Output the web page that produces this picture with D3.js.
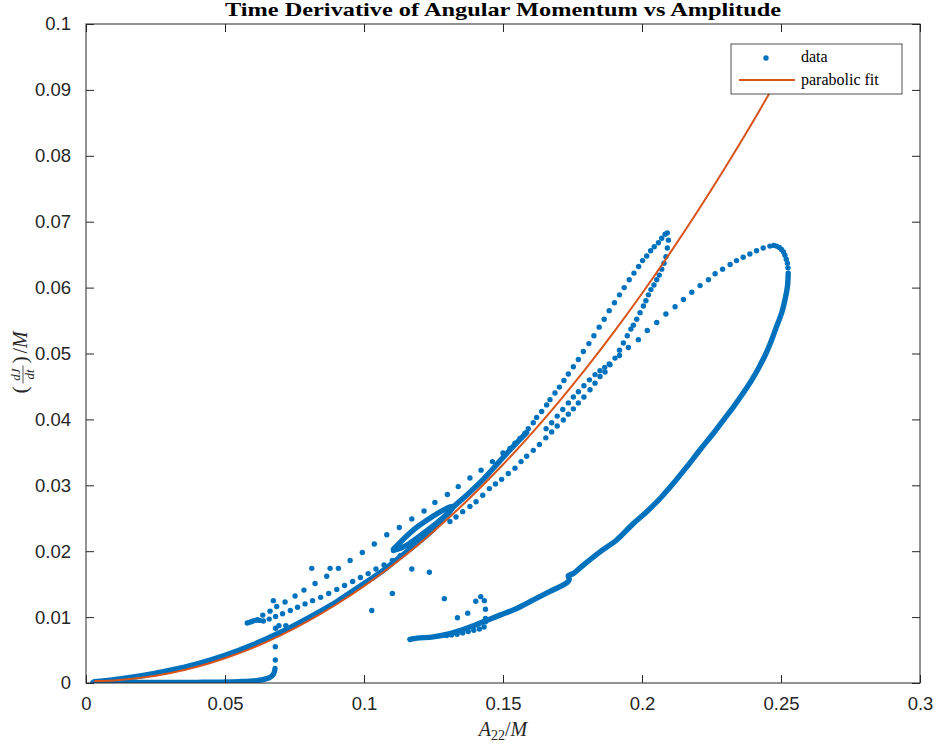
<!DOCTYPE html>
<html>
<head>
<meta charset="utf-8">
<script src="https://cdn.jsdelivr.net/npm/d3@7/dist/d3.min.js"></script>
<style>
  html, body { margin: 0; padding: 0; background: #fff; }
  svg { display: block; }
</style>
</head>
<body>
<svg id="chart" width="936" height="744"></svg>
<script>
// ---- axis ticks ----
const xTicks = [0, 0.05, 0.1, 0.15, 0.2, 0.25, 0.3];
const xTickLabels = ["0", "0.05", "0.1", "0.15", "0.2", "0.25", "0.3"];
const yTicks = [0, 0.01, 0.02, 0.03, 0.04, 0.05, 0.06, 0.07, 0.08, 0.09, 0.1];
const yTickLabels = ["0", "0.01", "0.02", "0.03", "0.04", "0.05", "0.06", "0.07", "0.08", "0.09", "0.1"];

// ---- data: densely sampled stretches (drawn as continuous bands of dots) ----
const denseLowerFlat = [
  [0.0025, 0.0001], [0.02, 0.0001], [0.04, 0.0001], [0.055, 0.0002], [0.062, 0.0004],
  [0.066, 0.0008], [0.0675, 0.0014], [0.068, 0.0022]
];
const denseMainBand = [
  [0.003, 0.0002], [0.01, 0.0005], [0.02, 0.0011], [0.03, 0.0019], [0.04, 0.0029],
  [0.05, 0.0042], [0.06, 0.0058], [0.07, 0.0077], [0.08, 0.0099], [0.09, 0.0123],
  [0.1, 0.0151], [0.106, 0.0168], [0.112, 0.0188], [0.118, 0.0208], [0.125, 0.0233],
  [0.1309, 0.0262], [0.1369, 0.0285], [0.1429, 0.0309], [0.1489, 0.0337],
  [0.1537, 0.0359], [0.1585, 0.038]
];
const denseEyeLoop = [
  [0.1106, 0.0203], [0.1177, 0.0232], [0.1237, 0.025], [0.1297, 0.0265], [0.1318, 0.0268],
  [0.1309, 0.026], [0.1273, 0.0247], [0.1213, 0.0227], [0.1153, 0.0209], [0.1106, 0.0201]
];
const denseOuterLoop = [
  [0.2526, 0.0622], [0.2523, 0.0601], [0.2514, 0.0581], [0.2502, 0.0561], [0.2484, 0.0541],
  [0.2466, 0.052], [0.2446, 0.05], [0.2422, 0.048], [0.2395, 0.046], [0.2364, 0.044],
  [0.2329, 0.0419], [0.2293, 0.0399], [0.2257, 0.0379], [0.2209, 0.0354], [0.2161, 0.0328],
  [0.2113, 0.0303], [0.2065, 0.028], [0.2017, 0.026], [0.1969, 0.0242], [0.1909, 0.0217],
  [0.1849, 0.0199], [0.1789, 0.0179], [0.1752, 0.0166], [0.1735, 0.0163], [0.1738, 0.0157],
  [0.1729, 0.0152], [0.1669, 0.0139], [0.1609, 0.0126], [0.1549, 0.0113], [0.1489, 0.0103],
  [0.1429, 0.0093], [0.1369, 0.0083], [0.1309, 0.0075], [0.1249, 0.007], [0.119, 0.0068],
  [0.1165, 0.0066]
];

// ---- data: sparsely sampled stretches (individual dots) ----
const dotsJump = [
  [0.0681, 0.0035], [0.0681, 0.0055], [0.0682, 0.0083], [0.0694, 0.0087], [0.0719, 0.0087]
];
const dotsCluster = [
  [0.058, 0.0091], [0.0587, 0.0092], [0.0594, 0.0093], [0.0601, 0.0094], [0.0609, 0.0095],
  [0.0617, 0.0096], [0.0625, 0.0095]
];
const dotsUpperArc = [
  [0.0636, 0.0103], [0.0662, 0.0109], [0.0674, 0.0125], [0.0686, 0.0116], [0.0716, 0.0123],
  [0.0752, 0.0132], [0.0784, 0.0141], [0.0824, 0.0151], [0.0866, 0.0162], [0.0908, 0.0174],
  [0.095, 0.0186], [0.0994, 0.0198], [0.1037, 0.0211], [0.1082, 0.0225], [0.1127, 0.0236],
  [0.1172, 0.0249], [0.1216, 0.0261], [0.1255, 0.0274], [0.13, 0.0286], [0.1339, 0.0298],
  [0.1381, 0.0311], [0.1421, 0.0323], [0.1462, 0.0336], [0.150, 0.0349], [0.1525, 0.0356],
  [0.1543, 0.0364], [0.1561, 0.0371], [0.1579, 0.0379], [0.1591, 0.0386], [0.1609, 0.0395],
  [0.1621, 0.0403], [0.1639, 0.0412], [0.1657, 0.0422], [0.1669, 0.043], [0.1687, 0.044],
  [0.1703, 0.0449], [0.1719, 0.0459], [0.1735, 0.0469], [0.1753, 0.048], [0.1771, 0.0491],
  [0.1789, 0.0503], [0.1809, 0.0515], [0.1827, 0.0527], [0.1846, 0.054], [0.1864, 0.0552],
  [0.1882, 0.0565], [0.1901, 0.0577], [0.1919, 0.0589], [0.1936, 0.06], [0.1954, 0.0612],
  [0.1971, 0.0622], [0.1988, 0.0632], [0.2002, 0.0641], [0.2017, 0.0648], [0.2031, 0.0656],
  [0.2044, 0.0662], [0.2059, 0.0668], [0.2071, 0.0675], [0.2083, 0.0681], [0.2091, 0.0683]
];
const dotsMiddleArc = [
  [0.0638, 0.0094], [0.0659, 0.0097], [0.0682, 0.0101], [0.0707, 0.0105], [0.0735, 0.011],
  [0.0761, 0.0115], [0.0788, 0.012], [0.0815, 0.0125], [0.0844, 0.013], [0.0873, 0.0136],
  [0.0902, 0.0142], [0.093, 0.0148], [0.0959, 0.0154], [0.0987, 0.016], [0.1015, 0.0166],
  [0.1043, 0.0173], [0.1072, 0.0179], [0.1102, 0.0186], [0.113, 0.0193]
];
const dotsReturnArc = [
  [0.2095, 0.0672], [0.2091, 0.066], [0.2086, 0.0647], [0.2079, 0.0637], [0.2071, 0.0628],
  [0.2062, 0.0619], [0.2053, 0.0612], [0.2043, 0.0604], [0.2032, 0.0597], [0.2023, 0.0589],
  [0.2014, 0.058], [0.2005, 0.0572], [0.1993, 0.0562], [0.1981, 0.0552], [0.1969, 0.0543],
  [0.196, 0.0537], [0.1947, 0.0527], [0.1933, 0.0516], [0.1919, 0.0505], [0.1903, 0.0493],
  [0.1885, 0.0483], [0.1867, 0.0472], [0.1849, 0.0465], [0.1831, 0.0455], [0.1813, 0.0445],
  [0.1791, 0.0434], [0.1771, 0.0425], [0.1753, 0.0416], [0.1735, 0.0408], [0.1717, 0.0399],
  [0.1695, 0.039], [0.1675, 0.0381], [0.1654, 0.0372], [0.1631, 0.0362], [0.1609, 0.0353],
  [0.1585, 0.0344], [0.1565, 0.0336], [0.1543, 0.0326], [0.1519, 0.0318], [0.1495, 0.0309],
  [0.1473, 0.0302], [0.1451, 0.0295], [0.1427, 0.0285], [0.1403, 0.0275], [0.1381, 0.0268],
  [0.1355, 0.026], [0.1331, 0.0252], [0.1309, 0.0245]
];
const dotsInnerArc = [
  [0.1655, 0.0386], [0.1675, 0.0395], [0.1695, 0.0405], [0.1715, 0.0415], [0.1735, 0.0425],
  [0.1753, 0.0434], [0.1771, 0.0442], [0.1791, 0.0451], [0.1811, 0.046], [0.1831, 0.0468],
  [0.1849, 0.0474], [0.1866, 0.0479],
  [0.1882, 0.0484], [0.1919, 0.0497], [0.1951, 0.0509], [0.1987, 0.0521], [0.2019, 0.0535],
  [0.2053, 0.0547], [0.2086, 0.056], [0.2119, 0.0571], [0.2149, 0.0582], [0.2179, 0.0593],
  [0.2209, 0.0603], [0.2239, 0.0612], [0.2263, 0.0621], [0.229, 0.0628], [0.2317, 0.0635],
  [0.234, 0.0641], [0.2364, 0.0646], [0.2388, 0.0651], [0.2412, 0.0656], [0.2436, 0.066],
  [0.246, 0.0663], [0.2474, 0.0664], [0.2484, 0.0663], [0.2494, 0.0661], [0.2502, 0.0658],
  [0.2509, 0.0654], [0.2514, 0.0649], [0.2519, 0.0643], [0.2523, 0.0637], [0.2525, 0.063]
];
const dotsStray = [
  [0.1028, 0.011], [0.1102, 0.0136], [0.1172, 0.0173], [0.1235, 0.0168], [0.1289, 0.0128],
  [0.1336, 0.0099], [0.1373, 0.0106], [0.1402, 0.0124], [0.142, 0.0131], [0.1433, 0.0125],
  [0.1437, 0.0112], [0.1437, 0.0098], [0.1437, 0.0093], [0.0812, 0.0174], [0.0878, 0.0174]
];
const dotsUnderBand = [
  [0.1297, 0.0072], [0.1315, 0.0073], [0.1335, 0.0074], [0.1355, 0.0076], [0.1375, 0.0078],
  [0.1395, 0.008], [0.1415, 0.0082], [0.1432, 0.0085]
];

// ---- parabolic fit, tabulated over the data's range of A22/M ----
const fitX = [0.003, 0.01, 0.02, 0.03, 0.04, 0.05, 0.06, 0.07, 0.08, 0.09, 0.10, 0.11, 0.12,
  0.13, 0.14, 0.15, 0.16, 0.17, 0.18, 0.19, 0.20, 0.21, 0.22, 0.23, 0.24, 0.25, 0.2526];
const fitY = [0.0003, 0.00039, 0.00078, 0.00147, 0.00246, 0.00375, 0.00534, 0.00723, 0.00942,
  0.01191, 0.0147, 0.01779, 0.02118, 0.02487, 0.02886, 0.03315, 0.03774, 0.04263, 0.04782,
  0.05331, 0.0591, 0.06519, 0.07158, 0.07827, 0.08526, 0.09255, 0.09449];

// ---- layout ----
const svg = d3.select("#chart");
const mLeft = 86, mRight = 920, mTop = 24, mBottom = 683;
const x = d3.scaleLinear().domain([0, 0.3]).range([mLeft, mRight]);
const y = d3.scaleLinear().domain([0, 0.1]).range([mBottom, mTop]);

const blue = "#0072BD", orange = "#D95319", axisCol = "#262626";
const tickFont = "'Liberation Sans', Arial, Helvetica, sans-serif";
const serif = "'Liberation Serif', 'DejaVu Serif', serif";

svg.append("defs").append("clipPath").attr("id", "plotClip")
  .append("rect").attr("x", mLeft).attr("y", mTop).attr("width", mRight - mLeft).attr("height", mBottom - mTop);

const plot = svg.append("g").attr("clip-path", "url(#plotClip)");

// dense stretches
const band = d3.line().x(d => x(d[0])).y(d => y(d[1])).curve(d3.curveCatmullRom);
[denseLowerFlat, denseMainBand, denseEyeLoop, denseOuterLoop].forEach(s => {
  plot.append("path").attr("d", band(s))
    .attr("fill", "none").attr("stroke", blue).attr("stroke-width", 5.4)
    .attr("stroke-linecap", "round").attr("stroke-linejoin", "round");
});

// sparse dots
const allDots = [].concat(dotsJump, dotsCluster, dotsUpperArc, dotsMiddleArc, dotsReturnArc,
  dotsInnerArc, dotsStray, dotsUnderBand);
plot.selectAll("circle.dot").data(allDots).enter().append("circle")
  .attr("class", "dot")
  .attr("cx", d => x(d[0])).attr("cy", d => y(d[1])).attr("r", 2.7)
  .attr("fill", blue);

// fit line
const fitData = fitX.map((v, i) => [v, fitY[i]]);
plot.append("path").attr("d", d3.line().x(d => x(d[0])).y(d => y(d[1])).curve(d3.curveMonotoneX)(fitData))
  .attr("fill", "none").attr("stroke", orange).attr("stroke-width", 2);

// ---- axes (box with inward ticks on all sides) ----
const axes = svg.append("g");
axes.append("rect").attr("x", mLeft).attr("y", mTop).attr("width", mRight - mLeft).attr("height", mBottom - mTop)
  .attr("fill", "none").attr("stroke", axisCol).attr("stroke-width", 1);

const tickLen = 8;
const xAxisB = d3.axisBottom(x).tickValues(xTicks).tickSize(-tickLen).tickPadding(14)
  .tickFormat((d, i) => xTickLabels[i]);
const xAxisT = d3.axisTop(x).tickValues(xTicks).tickSize(-tickLen).tickFormat("");
const yAxisL = d3.axisLeft(y).tickValues(yTicks).tickSize(-tickLen).tickPadding(tickLen + 7)
  .tickFormat((d, i) => yTickLabels[i]);
const yAxisR = d3.axisRight(y).tickValues(yTicks).tickSize(-tickLen).tickFormat("");

function styleAxis(g) {
  g.select(".domain").remove();
  g.selectAll(".tick line").attr("stroke", axisCol).attr("stroke-width", 1);
  g.selectAll(".tick text").attr("fill", axisCol).style("font-family", tickFont).style("font-size", "18.5px");
}
axes.append("g").attr("transform", `translate(0,${mBottom})`).call(xAxisB).call(styleAxis);
axes.append("g").attr("transform", `translate(0,${mTop})`).call(xAxisT).call(styleAxis);
axes.append("g").attr("transform", `translate(${mLeft},0)`).call(yAxisL).call(styleAxis);
axes.append("g").attr("transform", `translate(${mRight},0)`).call(yAxisR).call(styleAxis);

// ---- title ----
svg.append("text")
  .attr("x", (mLeft + mRight) / 2).attr("y", 16)
  .attr("text-anchor", "middle")
  .attr("textLength", 556).attr("lengthAdjust", "spacingAndGlyphs")
  .style("font-family", serif).style("font-weight", "bold").style("font-size", "19px")
  .attr("fill", "#000")
  .text("Time Derivative of Angular Momentum vs Amplitude");

// ---- x label: A_22 / M ----
const xl = svg.append("text")
  .attr("x", (mLeft + mRight) / 2).attr("y", 736)
  .attr("text-anchor", "middle")
  .style("font-family", serif).style("font-size", "20px").attr("fill", axisCol);
xl.append("tspan").style("font-style", "italic").text("A");
xl.append("tspan").attr("dy", 4).style("font-size", "14px").text("22");
xl.append("tspan").attr("dy", -4).text("/");
xl.append("tspan").style("font-style", "italic").text("M");

// ---- y label: (dJ/dt)/M, rotated ----
const yl = svg.append("g").attr("transform", `translate(27,${(mTop + mBottom) / 2}) rotate(-90)`)
  .attr("fill", axisCol).style("font-family", serif);
yl.append("text").attr("x", -40).attr("y", 0).style("font-size", "22px").text("(");
yl.append("text").attr("x", -21).attr("y", -7).attr("text-anchor", "middle")
  .style("font-size", "13px").style("font-style", "italic").text("dJ");
yl.append("line").attr("x1", -30).attr("x2", -12).attr("y1", -4).attr("y2", -4)
  .attr("stroke", axisCol).attr("stroke-width", 0.8);
yl.append("text").attr("x", -21).attr("y", 7).attr("text-anchor", "middle")
  .style("font-size", "13px").style("font-style", "italic").text("dt");
yl.append("text").attr("x", -10).attr("y", 0).style("font-size", "22px").text(")");
const ylm = yl.append("text").attr("x", 0).attr("y", 0).style("font-size", "20px");
ylm.append("tspan").text("/");
ylm.append("tspan").style("font-style", "italic").text("M");

// ---- legend ----
const lg = svg.append("g");
lg.append("rect").attr("x", 731).attr("y", 44).attr("width", 171).attr("height", 50)
  .attr("fill", "#fff").attr("stroke", axisCol).attr("stroke-width", 0.8);
lg.append("circle").attr("cx", 766).attr("cy", 58).attr("r", 2.7).attr("fill", blue);
lg.append("line").attr("x1", 739).attr("x2", 795).attr("y1", 80).attr("y2", 80)
  .attr("stroke", orange).attr("stroke-width", 2);
lg.append("text").attr("x", 801).attr("y", 62).style("font-family", serif).style("font-size", "16px")
  .attr("fill", "#000").text("data");
lg.append("text").attr("x", 801).attr("y", 85).style("font-family", serif).style("font-size", "16px")
  .attr("fill", "#000").text("parabolic fit");
</script>
</body>
</html>
